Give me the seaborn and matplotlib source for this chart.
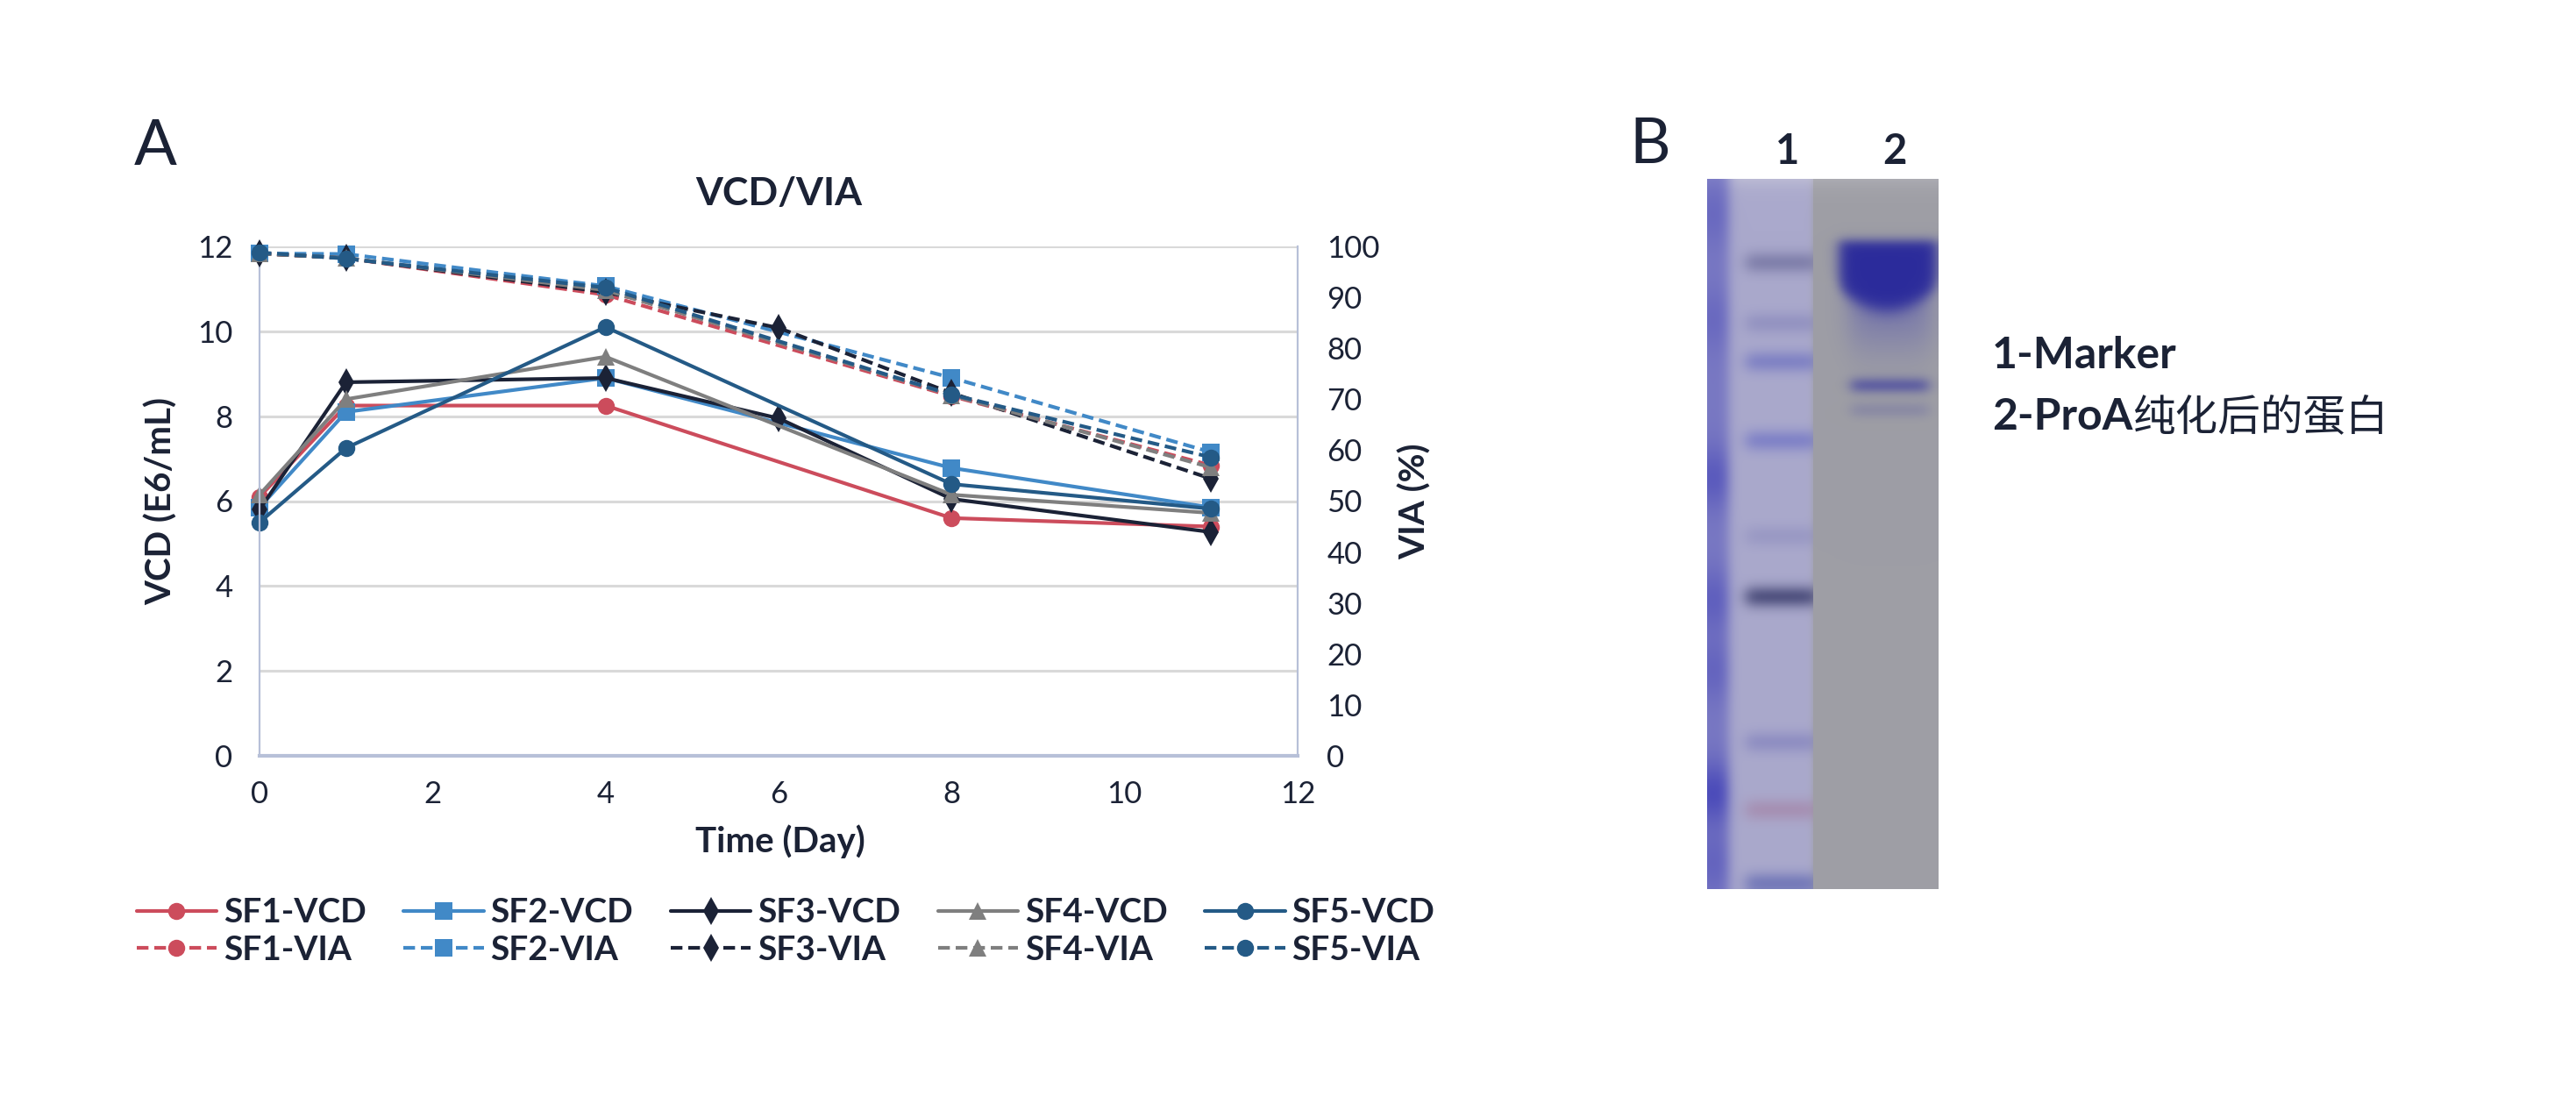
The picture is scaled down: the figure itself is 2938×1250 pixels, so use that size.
import numpy as np
import pandas as pd
import matplotlib.pyplot as plt
import seaborn as sns

# ---------------- panel A data ----------------
samples = ['SF1', 'SF2', 'SF3', 'SF4', 'SF5']
days_std = [0, 1, 4, 8, 11]
days_sf3 = [0, 1, 4, 6, 8, 11]          # SF3 also sampled on day 6

vcd_sf1 = [6.10, 8.25, 8.25, 5.60, 5.40]
vcd_sf2 = [5.85, 8.10, 8.90, 6.78, 5.85]
vcd_sf3 = [5.80, 8.80, 8.90, 7.95, 6.05, 5.27]
vcd_sf4 = [6.15, 8.40, 9.40, 6.15, 5.72]
vcd_sf5 = [5.50, 7.25, 10.10, 6.40, 5.82]

via_sf1 = [98.6, 97.7, 90.5, 70.6, 57.0]
via_sf2 = [98.6, 98.5, 92.2, 74.2, 59.6]
via_sf3 = [98.6, 97.7, 91.0, 84.0, 71.2, 54.4]
via_sf4 = [98.6, 97.7, 91.4, 70.8, 56.6]
via_sf5 = [98.8, 97.6, 91.9, 70.9, 58.6]

colors = {'SF1': '#CC4C5C', 'SF2': '#4189C7', 'SF3': '#1B2236',
          'SF4': '#7F7F7F', 'SF5': '#245A86'}
markers = {'SF1': 'o', 'SF2': 's', 'SF3': 'd', 'SF4': '^', 'SF5': 'o'}
msizes = {'SF1': 14, 'SF2': 14, 'SF3': 16, 'SF4': 15, 'SF5': 14}

# ---------------- panel B data (gel, px from top of gel) ----------------
marker_band_y = [95, 164, 208, 298, 407, 476, 642, 719, 803]
marker_band_amp = [0.60, 0.40, 0.60, 0.60, 0.35, 0.90, 0.45, 0.45, 0.60]
marker_band_rgb = [(95, 95, 145), (110, 110, 175), (95, 100, 190), (95, 100, 195),
                   (120, 120, 180), (62, 64, 112), (105, 105, 180),
                   (160, 110, 145), (75, 85, 170)]
stripe_dark_y = [40, 160, 340, 480, 560, 700, 780]
stripe_dark_amp = [0.15, 0.15, 0.30, 0.25, 0.20, 0.45, 0.20]
lane2_band_y = [235, 263]
lane2_band_amp = [0.8, 0.25]

ink = '#1B2235'

rows = []
for s, d, v, a in [('SF1', days_std, vcd_sf1, via_sf1),
                   ('SF2', days_std, vcd_sf2, via_sf2),
                   ('SF3', days_sf3, vcd_sf3, via_sf3),
                   ('SF4', days_std, vcd_sf4, via_sf4),
                   ('SF5', days_std, vcd_sf5, via_sf5)]:
    for day, vc, vi in zip(d, v, a):
        rows.append({'sample': s, 'day': day, 'vcd': vc, 'via': vi})
df = pd.DataFrame(rows)

sns.set_style('white')
plt.rcParams['font.family'] = ['Lato', 'Noto Sans CJK SC', 'DejaVu Sans']
plt.rcParams['text.color'] = ink

fig = plt.figure(figsize=(29.38, 12.5), dpi=100)
ax = fig.add_axes([296 / 2938, 1 - 862 / 1250, 1184 / 2938, 581 / 1250])
ax2 = ax.twinx()

vcd_lines, via_lines = [], []
for s in samples:
    d = df[df['sample'] == s]
    sns.lineplot(data=d, x='day', y='vcd', ax=ax, color=colors[s], marker=markers[s],
                 markersize=msizes[s], markeredgewidth=0, linewidth=3, clip_on=False,
                 errorbar=None, legend=False)
    ln = ax.get_lines()[-1]
    ln.set_label(f'{s}-VCD')
    vcd_lines.append(ln)
    sns.lineplot(data=d, x='day', y='via', ax=ax2, color=colors[s], marker=markers[s],
                 markersize=msizes[s], markeredgewidth=0, linewidth=3,
                 linestyle=(0, (3.2, 1.6)), clip_on=False, errorbar=None, legend=False)
    ln = ax2.get_lines()[-1]
    ln.set_label(f'{s}-VIA')
    via_lines.append(ln)

ax.set_xlim(0, 12)
ax.set_ylim(0, 12)
ax2.set_ylim(0, 100)
ax.set_xticks(range(0, 13, 2))
ax.set_yticks(range(0, 13, 2))
ax2.set_yticks(range(0, 101, 10))
ax.yaxis.grid(True, color='#D9D9D9', linewidth=2.2)
ax.xaxis.grid(False)
ax.set_axisbelow(True)

spine_c = '#B7C0D8'
for a in (ax, ax2):
    a.spines['top'].set_visible(False)
    a.tick_params(length=0, labelsize=25, labelcolor=ink)
ax.spines['right'].set_visible(False)
ax.spines['left'].set_color(spine_c)
ax.spines['left'].set_linewidth(1.6)
ax.spines['bottom'].set_color(spine_c)
ax.spines['bottom'].set_linewidth(3)
ax2.spines['left'].set_visible(False)
ax2.spines['bottom'].set_visible(False)
ax2.spines['right'].set_color(spine_c)
ax2.spines['right'].set_linewidth(1.6)
ax.tick_params(axis='x', pad=20)
ax.tick_params(axis='y', pad=22)
ax2.tick_params(axis='y', pad=24)

lab = dict(fontsize=29, fontweight='bold', color=ink)
ax.set_xlabel('Time (Day)', **lab)
ax.xaxis.set_label_coords(0.502, -0.135)
ax.set_ylabel('VCD (E6/mL)', **lab)
ax.yaxis.set_label_coords(-0.079, 0.5)
ax2.set_ylabel('VIA (%)', **lab)
ax2.yaxis.set_label_coords(1.097, 0.5)
ax.text(0.5, 1.103, 'VCD/VIA', transform=ax.transAxes, ha='center', va='center',
        fontsize=32, fontweight='bold', color=ink)

handles, labels = [], []
for lv, li in zip(vcd_lines, via_lines):
    handles += [lv, li]
    labels += [lv.get_label(), li.get_label()]
fig.legend(handles, labels, ncol=5, loc='center',
           bbox_to_anchor=(896 / 2938, 1 - 1062 / 1250), frameon=False,
           prop={'size': 28, 'weight': 'bold'}, handlelength=2.35,
           handletextpad=0.2, columnspacing=1.1, labelspacing=0.2)

fig.text(177 / 2938, 1 - 167 / 1250, 'A', fontsize=52, ha='center', va='center', color=ink)
fig.text(1882 / 2938, 1 - 165 / 1250, 'B', fontsize=52, ha='center', va='center', color=ink)

# ---------------- panel B: gel picture ----------------
gel_h, gel_w = 810, 264
yy, xx = np.mgrid[0:gel_h, 0:gel_w].astype(float)
img = np.zeros((gel_h, gel_w, 3))
img[:, :121] = np.array([170, 169, 204]) / 255
img[:, 121:] = np.array([158, 158, 165]) / 255


def paint(base, alpha, rgb):
    a = np.clip(alpha, 0, 1)[..., None]
    return base * (1 - a) + np.array(rgb) / 255 * a


def xwin(x0, x1, soft=2.0):
    return 1 / (1 + np.exp(-(xx - x0) / soft)) / (1 + np.exp((xx - x1) / soft))


def blur(im, sigma):
    r = int(3 * sigma)
    k = np.exp(-0.5 * (np.arange(-r, r + 1) / sigma) ** 2)
    k /= k.sum()
    out = np.empty_like(im)
    for c in range(3):
        chan = np.pad(im[:, :, c], r, mode='edge')
        chan = np.apply_along_axis(lambda v: np.convolve(v, k, mode='same'), 0, chan)
        chan = np.apply_along_axis(lambda v: np.convolve(v, k, mode='same'), 1, chan)
        out[:, :, c] = chan[r:-r, r:-r]
    return out


# lighter top edge of both lanes
img = paint(img, 0.35 * np.exp(-yy / 8), (225, 225, 230))

stripe = 0.5 + sum(a * np.exp(-0.5 * ((yy - y) / 25) ** 2)
                   for y, a in zip(stripe_dark_y, stripe_dark_amp))
img = paint(img, xwin(-10, 24, 3) * stripe, (70, 70, 185))
for y, a, c in zip(marker_band_y, marker_band_amp, marker_band_rgb):
    img = paint(img, a * np.exp(-0.5 * ((yy - y) / 8) ** 2) * xwin(44, 125, 4), c)
lane1 = blur(img, 4)

img = np.zeros_like(lane1)
img[:, :] = np.array([158, 158, 165]) / 255
img = paint(img, 0.25 * np.exp(-yy / 10), (215, 215, 220))
bottom = 150 - 30 * ((xx - 205) / 60) ** 2
blob = xwin(150, 262, 4) / (1 + np.exp(-(yy - 70) / 3)) / (1 + np.exp((yy - bottom) / 5))
tail = xwin(162, 255, 8) * np.exp(-0.5 * ((yy - 150) / 35) ** 2) * (yy > 120)
img = paint(img, 0.5 * tail, (95, 95, 175))
img = paint(img, 0.97 * blob, (40, 40, 155))
for y, a in zip(lane2_band_y, lane2_band_amp):
    img = paint(img, a * np.exp(-0.5 * ((yy - y) / 6) ** 2) * xwin(164, 252, 4), (75, 75, 160))
lane2 = blur(img, 3)

# two photographed lanes pasted side by side
gel = np.where(xx[..., None] < 121, lane1, lane2)

gax = fig.add_axes([1947 / 2938, 1 - 1014 / 1250, 264 / 2938, 810 / 1250])
gax.imshow(np.clip(gel, 0, 1), aspect='auto', interpolation='bilinear')
gax.axis('off')

fig.text(2039 / 2938, 1 - 173 / 1250, '1', fontsize=34, fontweight='bold', ha='center', va='center')
fig.text(2161 / 2938, 1 - 173 / 1250, '2', fontsize=34, fontweight='bold', ha='center', va='center')
fig.text(2272 / 2938, 1 - 405 / 1250, '1-Marker', fontsize=36, fontweight='bold',
         ha='left', va='center')
t2 = fig.text(2272 / 2938, 1 - 476 / 1250, '2-ProA', fontsize=36, fontweight='bold',
              ha='left', va='center')
plt.annotate('纯化后的蛋白', xy=(1, 0.5), xycoords=t2, va='center', ha='left',
             fontsize=35, family=['Noto Sans CJK SC'], color=ink,
             annotation_clip=False)

fig.savefig('out.png', dpi=100, facecolor='white')
